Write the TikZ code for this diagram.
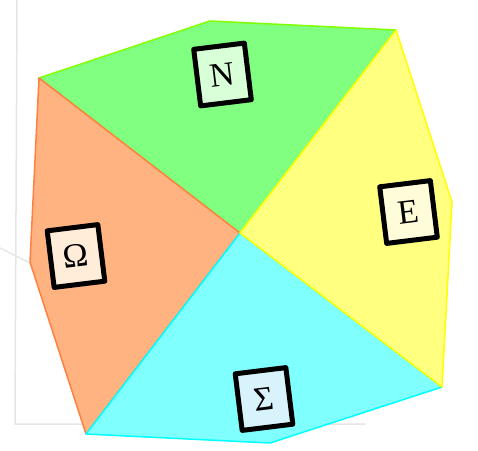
\documentclass[tikz,border=0pt]{standalone}
\usepackage{fontspec}
\setmainfont{Liberation Serif}
\usepackage{tikz}
\usetikzlibrary{arrows}

\definecolor{greenfill}{RGB}{128,255,128}
\definecolor{greenline}{RGB}{128,255,0}
\definecolor{yellowfill}{RGB}{255,255,128}
\definecolor{yellowline}{RGB}{255,255,0}
\definecolor{cyanfill}{RGB}{128,255,255}
\definecolor{cyanline}{RGB}{0,255,255}
\definecolor{orangefill}{RGB}{255,179,128}
\definecolor{orangeline}{RGB}{255,128,64}

\begin{document}
\begin{tikzpicture}[line cap=round,line join=round,x=1pt,y=-1pt,
		sector/.style={line width=1.5pt},
		labelbox/.style={draw=black,line width=5pt,rotate=7,minimum width=51pt,minimum height=57pt,inner sep=0pt,font=\fontsize{34}{40}\selectfont}]
		\useasboundingbox (0,0) rectangle (478,450);

		% Hintergrund
		\draw[gray!20,line width=1.5pt] (17,0) -- (15,424) -- (365,424);
		\draw[gray!20,line width=1.5pt] (0,248) -- (30,263);

		% Ecken
		\coordinate (M) at (240,233);
		\coordinate (TL) at (39,78);
		\coordinate (T) at (210,21);
		\coordinate (TR) at (396,30);
		\coordinate (R) at (452,202);
		\coordinate (BR) at (442,387);
		\coordinate (B) at (270,443);
		\coordinate (BL) at (86,434);
		\coordinate (L) at (30,262);

		% Sektoren
		\filldraw[sector,fill=greenfill,draw=greenline] (M) -- (TL) -- (T) -- (TR) -- cycle;
		\filldraw[sector,fill=orangefill,draw=orangeline] (M) -- (BL) -- (L) -- (TL) -- cycle;
		\filldraw[sector,fill=cyanfill,draw=cyanline] (M) -- (BR) -- (B) -- (BL) -- cycle;
		\filldraw[sector,fill=yellowfill,draw=yellowline] (M) -- (TR) -- (R) -- (BR) -- cycle;

		% Beschriftungen
		\node[labelbox,fill=green!15] (north) at (222.5,74.5) {N};
		\node[labelbox,fill=yellow!15] (east) at (408.5,212) {E};
		\node[labelbox,fill=cyan!15] (sigma) at (264,399) {Σ};
		\node[labelbox,fill=orange!15] (omega) at (76,256) {Ω};
	\end{tikzpicture}
\end{document}
